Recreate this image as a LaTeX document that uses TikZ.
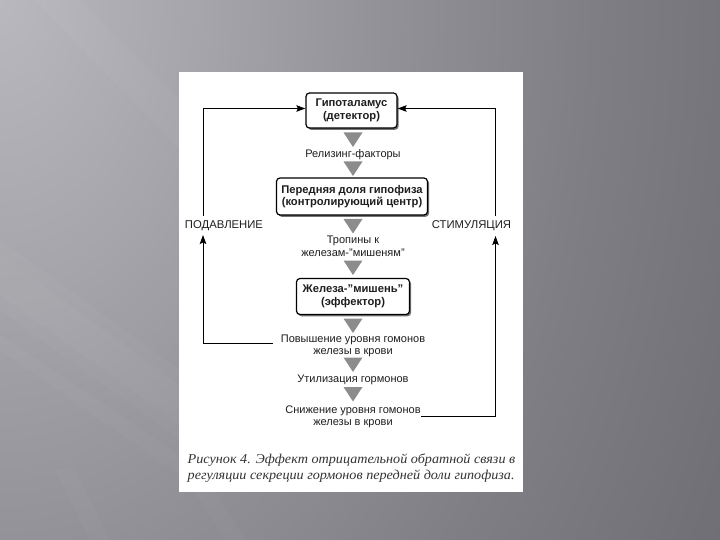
\documentclass[tikz,border=0pt]{standalone}
\usepackage{fontspec}
\setmainfont{Liberation Sans}
\newfontfamily\capfont[FakeStretch=1.05]{Liberation Serif}
\usetikzlibrary{shadows,arrows.meta}
\definecolor{bg0}{HTML}{B8B8BE}
\definecolor{bg1}{HTML}{A5A5AB}
\definecolor{bg2}{HTML}{909096}
\definecolor{bg3}{HTML}{7E7E84}
\definecolor{bg4}{HTML}{707076}
\definecolor{bg5}{HTML}{65656B}
\definecolor{bg6}{HTML}{5B5B61}
\definecolor{bg7}{HTML}{535359}
\definecolor{trigray}{HTML}{8C8C8C}
\definecolor{txt}{HTML}{1E1E1E}
\pgfdeclareradialshading{bgrad}{\pgfpointorigin}{color(0bp)=(bg0); color(5.5bp)=(bg1); color(11bp)=(bg2); color(16.5bp)=(bg3); color(22bp)=(bg4); color(30bp)=(bg5); color(40bp)=(bg6); color(50bp)=(bg7)}
\tikzset{
  x=1pt, y=-1pt,
  box/.style={draw=black, line width=1.2pt, rounded corners=3.5pt, fill=white,
    align=center, font=\fontsize{11.2}{12.5}\selectfont\bfseries, text=txt,
    inner sep=2pt, drop shadow={shadow xshift=1.6pt, shadow yshift=-1.8pt, fill=black!55, opacity=1}},
  lbl/.style={align=center, font=\fontsize{11}{12.5}\selectfont, text=txt, inner sep=0pt},
  fb/.style={line width=0.9pt, draw=black},
  fbarr/.style={fb, -{Stealth[length=9pt, width=6.5pt, inset=1.5pt]}},
  dtri/.pic={\fill[trigray] (-9.5,0) -- (9.5,0) -- (0,14.5) -- cycle;}
}
\begin{document}
\begin{tikzpicture}
% background
\useasboundingbox (0,0) rectangle (720,540);
\begin{scope}
\clip (0,0) rectangle (720,540);
\shade[shading=bgrad] (0,0) ellipse [x radius=900pt, y radius=1290pt];
\fill[white, opacity=0.03] (35,0) -- (80,0) -- (180,100) -- (180,150) -- cycle;
\fill[white, opacity=0.025] (0,240) -- (0,310) -- (180,440) -- (180,370) -- cycle;
\fill[white, opacity=0.025] (0,255) -- (0,295) -- (180,425) -- (180,385) -- cycle;
\fill[white, opacity=0.025] (0,335) -- (0,350) -- (180,475) -- (180,455) -- cycle;
\fill[white, opacity=0.025] (55,470) -- (75,470) -- (110,540) -- (90,540) -- cycle;
\fill[white, opacity=0.025] (195,492) -- (215,492) -- (245,540) -- (225,540) -- cycle;
\end{scope}
% panel
\fill[white] (179,72) rectangle (523,492);
% boxes
\node[box, minimum width=91pt, minimum height=35pt] (hyp) at (351.5,110.5) {Гипоталамус\\(детектор)};
\node[box, minimum width=151pt, minimum height=37pt] (ant) at (352,196.5) {Передняя доля гипофиза\\(контролирующий центр)};
\node[box, minimum width=113pt, minimum height=36pt] (eff) at (353,296.5) {Железа-"мишень"\\(эффектор)};
% labels
\node[lbl] (rel) at (353,155) {Релизинг-факторы};
\node[lbl] (tro) at (353,246.5) {Тропины к\\железам-"мишеням"};
\node[lbl] (pov) at (353,346) {Повышение уровня гомонов\\железы в крови};
\node[lbl] (uti) at (353,380) {Утилизация гормонов};
\node[lbl] (sni) at (353,417) {Снижение уровня гомонов\\железы в крови};
\node[lbl, font=\fontsize{11.3}{12}\selectfont] (sup) at (224,225.5) {ПОДАВЛЕНИЕ};
\node[lbl, font=\fontsize{11.3}{12}\selectfont] (sti) at (471.5,225.5) {СТИМУЛЯЦИЯ};
% triangles
\pic at (353,132.5) {dtri};
\pic at (353,161.5) {dtri};
\pic at (353,219) {dtri};
\pic at (353,260.5) {dtri};
\pic at (353,318.5) {dtri};
\pic at (353,357.5) {dtri};
\pic at (353,387) {dtri};
% feedback connectors
\coordinate (lb) at (273,343);
\coordinate (lbc) at (203,343);
\coordinate (lat) at (203,235);
\coordinate (ltop) at (203,216);
\coordinate (ltc) at (203,108.5);
\draw[fbarr] (lb) -- (lbc) -- (lat);
\draw[fbarr] (ltop) -- (ltc) -- (hyp.west |- ltc);
\coordinate (rb) at (421,416);
\coordinate (rbc) at (495.5,416);
\coordinate (rat) at (495.5,236);
\coordinate (rtop) at (495.5,216);
\coordinate (rtc) at (495.5,108.5);
\draw[fbarr] (rb) -- (rbc) -- (rat);
\draw[fbarr] (rtop) -- (rtc) -- (hyp.east |- rtc);
% caption
\node[anchor=west, align=left, inner sep=0pt, text=black!80,
  font=\capfont\itshape\fontsize{13.5}{16}\selectfont] (cap) at (187.5,468)
  {Рисунок 4. Эффект отрицательной обратной связи в\\регуляции секреции гормонов передней доли гипофиза.};
\end{tikzpicture}
\end{document}
